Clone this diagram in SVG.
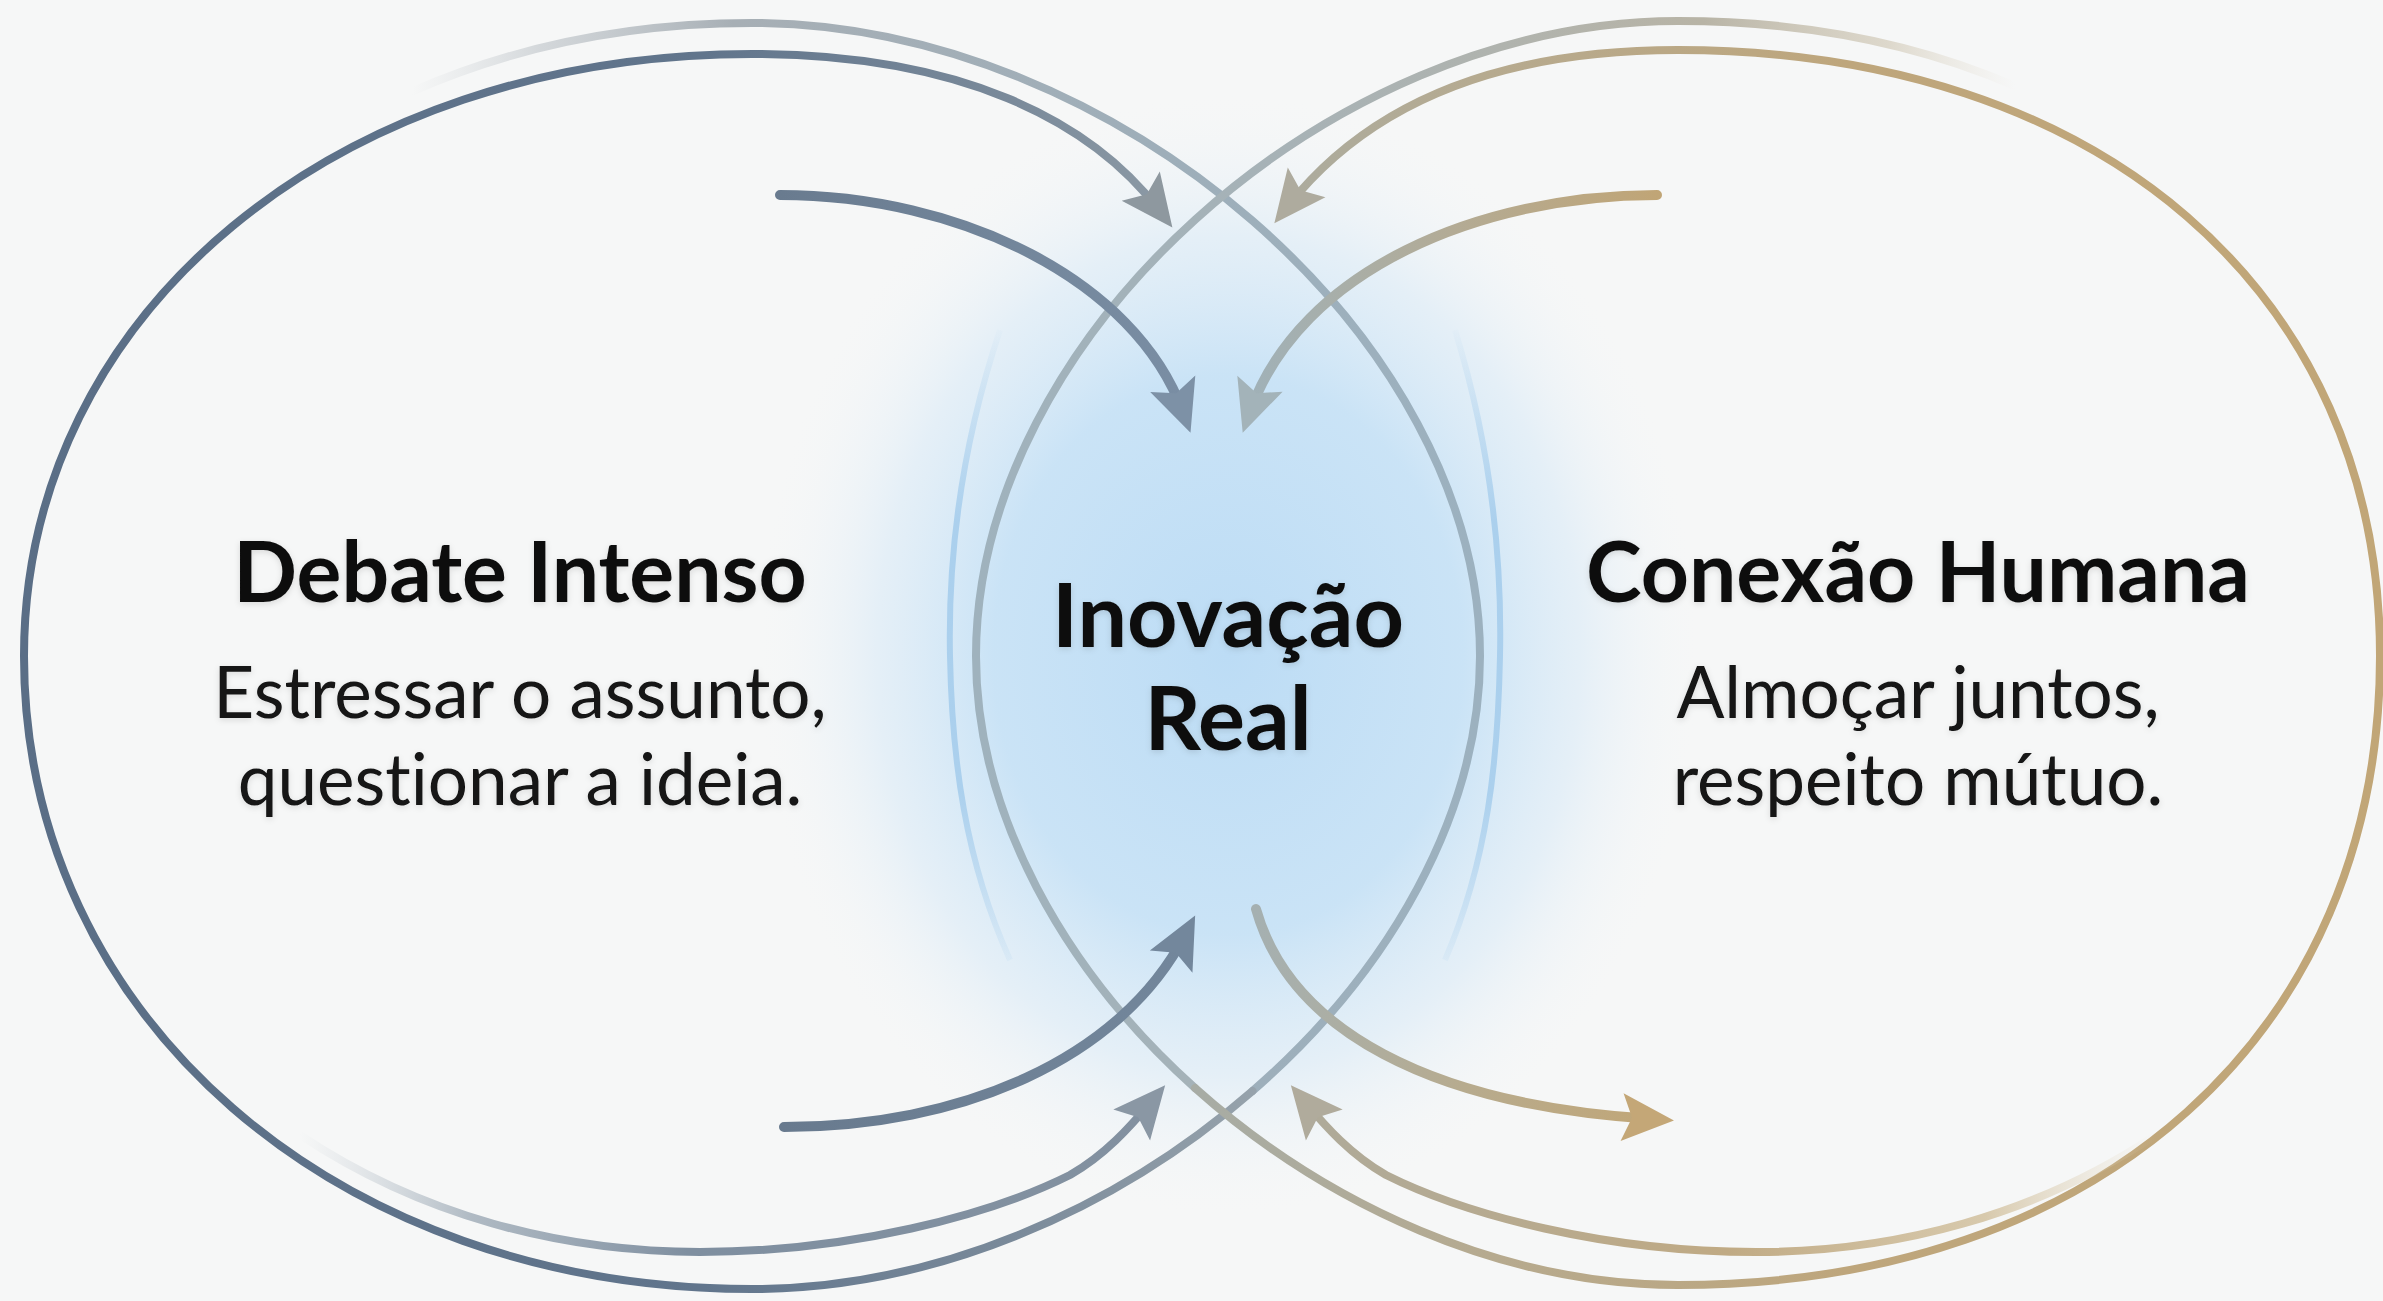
<svg xmlns="http://www.w3.org/2000/svg" width="2383" height="1301" viewBox="0 0 2383 1301">
  <defs>
    <style>
      .ring { fill: none; stroke-width: 8; stroke-linecap: round; }
      .arrow { fill: none; stroke-width: 10; stroke-linecap: round; }
      .title { font-family: Lato, "Open Sans", "Liberation Sans", sans-serif; font-weight: 700; fill: #0f0f0f; text-anchor: middle; font-variant-ligatures: none; }
      .sub { font-family: Lato, "Open Sans", "Liberation Sans", sans-serif; font-weight: 400; fill: #121212; text-anchor: middle; font-variant-ligatures: none; }
      .blue { fill: none; stroke-width: 6; }
    </style>
    <filter id="soft" x="-10%" y="-30%" width="120%" height="160%">
      <feDropShadow dx="0" dy="2" stdDeviation="3" flood-color="#000000" flood-opacity="0.12"/>
    </filter>
    <radialGradient id="glow" cx="0.5" cy="0.5" r="0.5">
      <stop offset="0" stop-color="#bcdcf5" stop-opacity="1"/>
      <stop offset="0.5" stop-color="#c5e1f6" stop-opacity="0.9"/>
      <stop offset="0.75" stop-color="#d9eaf7" stop-opacity="0.6"/>
      <stop offset="1" stop-color="#f3f6f8" stop-opacity="0"/>
    </radialGradient>
    <linearGradient id="gBlue" gradientUnits="userSpaceOnUse" x1="0" y1="320" x2="0" y2="990">
      <stop offset="0" stop-color="#a6cdec" stop-opacity="0"/>
      <stop offset="0.3" stop-color="#a6cdec" stop-opacity="0.9"/>
      <stop offset="0.7" stop-color="#a6cdec" stop-opacity="0.9"/>
      <stop offset="1" stop-color="#a6cdec" stop-opacity="0"/>
    </linearGradient>
    <linearGradient id="gL1" gradientUnits="userSpaceOnUse" x1="412" y1="0" x2="1480" y2="0">
      <stop offset="0" stop-color="#c8cdd1" stop-opacity="0"/>
      <stop offset="0.12" stop-color="#bcc2c7" stop-opacity="0.6"/>
      <stop offset="0.3" stop-color="#a7afb5"/>
      <stop offset="0.7" stop-color="#9eaeb9"/>
      <stop offset="1" stop-color="#9cb1bf"/>
    </linearGradient>
    <linearGradient id="gL2" gradientUnits="userSpaceOnUse" x1="24" y1="0" x2="1260" y2="0">
      <stop offset="0" stop-color="#5a6e86"/>
      <stop offset="0.55" stop-color="#61758c"/>
      <stop offset="0.8" stop-color="#7a8a9a"/>
      <stop offset="1" stop-color="#97a3ac"/>
    </linearGradient>
    <linearGradient id="gL3" gradientUnits="userSpaceOnUse" x1="300" y1="0" x2="1160" y2="0">
      <stop offset="0" stop-color="#c0c8cf" stop-opacity="0"/>
      <stop offset="0.2" stop-color="#a3afba" stop-opacity="0.85"/>
      <stop offset="0.45" stop-color="#7f8fa0"/>
      <stop offset="1" stop-color="#8391a0"/>
    </linearGradient>
    <linearGradient id="gL4" gradientUnits="userSpaceOnUse" x1="780" y1="0" x2="1190" y2="0">
      <stop offset="0" stop-color="#697b8f"/>
      <stop offset="1" stop-color="#7a8ea4"/>
    </linearGradient>
    <linearGradient id="gL5" gradientUnits="userSpaceOnUse" x1="784" y1="0" x2="1195" y2="0">
      <stop offset="0" stop-color="#687a8e"/>
      <stop offset="1" stop-color="#73879c"/>
    </linearGradient>
    <linearGradient id="gR1" gradientUnits="userSpaceOnUse" x1="2015" y1="0" x2="976" y2="0">
      <stop offset="0" stop-color="#e0d8c8" stop-opacity="0"/>
      <stop offset="0.12" stop-color="#cdc4b0" stop-opacity="0.6"/>
      <stop offset="0.3" stop-color="#b8b4a6"/>
      <stop offset="0.7" stop-color="#a7b2b6"/>
      <stop offset="1" stop-color="#9fb2bd"/>
    </linearGradient>
    <linearGradient id="gR2" gradientUnits="userSpaceOnUse" x1="2380" y1="0" x2="1195" y2="0">
      <stop offset="0" stop-color="#c1a677"/>
      <stop offset="0.45" stop-color="#bea67c"/>
      <stop offset="0.75" stop-color="#b6aa8f"/>
      <stop offset="1" stop-color="#a7aca5"/>
    </linearGradient>
    <linearGradient id="gR3" gradientUnits="userSpaceOnUse" x1="2156" y1="0" x2="1300" y2="0">
      <stop offset="0" stop-color="#e4d9c3" stop-opacity="0"/>
      <stop offset="0.2" stop-color="#d2c19f" stop-opacity="0.85"/>
      <stop offset="0.5" stop-color="#c0aa84"/>
      <stop offset="1" stop-color="#aeaa9a"/>
    </linearGradient>
    <linearGradient id="gR4" gradientUnits="userSpaceOnUse" x1="1657" y1="0" x2="1250" y2="0">
      <stop offset="0" stop-color="#c0a576"/>
      <stop offset="0.5" stop-color="#b3ab95"/>
      <stop offset="1" stop-color="#a0b1b8"/>
    </linearGradient>
    <linearGradient id="gR5" gradientUnits="userSpaceOnUse" x1="1256" y1="0" x2="1675" y2="0">
      <stop offset="0" stop-color="#a5b0b1"/>
      <stop offset="0.5" stop-color="#b7ab8e"/>
      <stop offset="1" stop-color="#c2a675"/>
    </linearGradient>
    <marker id="mL2" markerUnits="userSpaceOnUse" viewBox="-32 -26 56 52" markerWidth="56" markerHeight="52" refX="0" refY="0" orient="auto" overflow="visible"><path d="M22,0 L-30,-24 L-20,0 L-30,24 Z" fill="#8e989f"/></marker>
    <marker id="mL3" markerUnits="userSpaceOnUse" viewBox="-32 -26 56 52" markerWidth="56" markerHeight="52" refX="0" refY="0" orient="auto" overflow="visible"><path d="M22,0 L-30,-24 L-20,0 L-30,24 Z" fill="#8a97a4"/></marker>
    <marker id="mL4" markerUnits="userSpaceOnUse" viewBox="-32 -26 56 52" markerWidth="56" markerHeight="52" refX="0" refY="0" orient="auto" overflow="visible"><path d="M22,0 L-30,-24 L-20,0 L-30,24 Z" fill="#7d91a6"/></marker>
    <marker id="mL5" markerUnits="userSpaceOnUse" viewBox="-32 -26 56 52" markerWidth="56" markerHeight="52" refX="0" refY="0" orient="auto" overflow="visible"><path d="M22,0 L-30,-24 L-20,0 L-30,24 Z" fill="#73879c"/></marker>
    <marker id="mR2" markerUnits="userSpaceOnUse" viewBox="-32 -26 56 52" markerWidth="56" markerHeight="52" refX="0" refY="0" orient="auto" overflow="visible"><path d="M22,0 L-30,-24 L-20,0 L-30,24 Z" fill="#aeab9e"/></marker>
    <marker id="mR3" markerUnits="userSpaceOnUse" viewBox="-32 -26 56 52" markerWidth="56" markerHeight="52" refX="0" refY="0" orient="auto" overflow="visible"><path d="M22,0 L-30,-24 L-20,0 L-30,24 Z" fill="#b0ab9c"/></marker>
    <marker id="mR4" markerUnits="userSpaceOnUse" viewBox="-32 -26 56 52" markerWidth="56" markerHeight="52" refX="0" refY="0" orient="auto" overflow="visible"><path d="M22,0 L-30,-24 L-20,0 L-30,24 Z" fill="#a3b3b9"/></marker>
    <marker id="mR5" markerUnits="userSpaceOnUse" viewBox="-32 -26 56 52" markerWidth="56" markerHeight="52" refX="0" refY="0" orient="auto" overflow="visible"><path d="M22,0 L-30,-24 L-20,0 L-30,24 Z" fill="#c4a777"/></marker>
  </defs>

  <rect x="0" y="0" width="2383" height="1301" fill="#f6f7f7"/>

  <g id="node-inovacao">
    <ellipse cx="1228" cy="655" rx="470" ry="560" fill="url(#glow)"/>
    <path class="blue" stroke="url(#gBlue)" d="M1000,330 C960,450 948,560 950,656 C952,760 965,860 1010,960"/>
    <path class="blue" stroke="url(#gBlue)" d="M1455,330 C1492,450 1502,560 1500,656 C1498,760 1488,860 1445,960"/>
    <g filter="url(#soft)">
      <text class="title" x="1228" y="647" font-size="88">Inovação</text>
      <text class="title" x="1228" y="750" font-size="88">Real</text>
    </g>
  </g>

  <g id="node-debate">
    <path class="ring" stroke="url(#gL1)" d="M412,91.5 C512,47.5 627.5,23 752,23 C1116,23 1480,339.5 1480,656 C1480,814 1389,972.5 1252.5,1091"/>
    <path class="ring" stroke="url(#gL2)" marker-end="url(#mL2)" d="M1252.5,1091 C1116,1210 934,1289 752,1289 C337,1289 24,1017 24,656 C24,313 337,54 752,54 C960,54 1090,120 1159,210"/>
    <path class="ring" stroke="url(#gL3)" stroke-width="9" marker-end="url(#mL3)" d="M300,1135 C420,1215 560,1252 700,1252 C850,1252 990,1215 1070,1175 C1105,1155 1130,1127 1151,1102"/>
    <g filter="url(#soft)">
      <text class="title" x="520" y="602" font-size="84">Debate Intenso</text>
      <text class="sub" x="520" y="718" font-size="71">Estressar o assunto,</text>
      <text class="sub" x="520" y="805" font-size="71">questionar a ideia.</text>
    </g>
  </g>

  <g id="node-conexao">
    <path class="ring" stroke="url(#gR1)" d="M2015,86 C1918,44 1804,21 1678,21 C1327,21 976,338.5 976,656 C976,813 1064,970.5 1195,1088"/>
    <path class="ring" stroke="url(#gR2)" marker-end="url(#mR2)" d="M1195,1088 C1327,1206 1502.5,1285 1678,1285 C2099,1285 2380,1033 2380,656 C2380,292 2099,50 1678,50 C1480,50 1360,115 1288,206"/>
    <path class="ring" stroke="url(#gR3)" stroke-width="9" marker-end="url(#mR3)" d="M2156,1135 C2036,1215 1896,1252 1756,1252 C1606,1252 1466,1215 1386,1175 C1351,1155 1326,1127 1305,1102"/>
    <g filter="url(#soft)">
      <text class="title" x="1918" y="602" font-size="84">Conexão Humana</text>
      <text class="sub" x="1918" y="718" font-size="71">Almoçar juntos,</text>
      <text class="sub" x="1918" y="805" font-size="71">respeito mútuo.</text>
    </g>
  </g>

  <g id="connectors">
    <path class="arrow" stroke="url(#gL4)" marker-end="url(#mL4)" d="M780,195 C960,195 1135,280 1183,412"/>
    <path class="arrow" stroke="url(#gL5)" marker-end="url(#mL5)" d="M784,1127 C960,1127 1120,1060 1185,935"/>
    <path class="arrow" stroke="url(#gR4)" marker-end="url(#mR4)" d="M1657,195 C1480,195 1300,270 1250,412"/>
    <path class="arrow" stroke="url(#gR5)" marker-end="url(#mR5)" d="M1256,909 C1290,1030 1430,1105 1652,1119"/>
  </g>
</svg>
